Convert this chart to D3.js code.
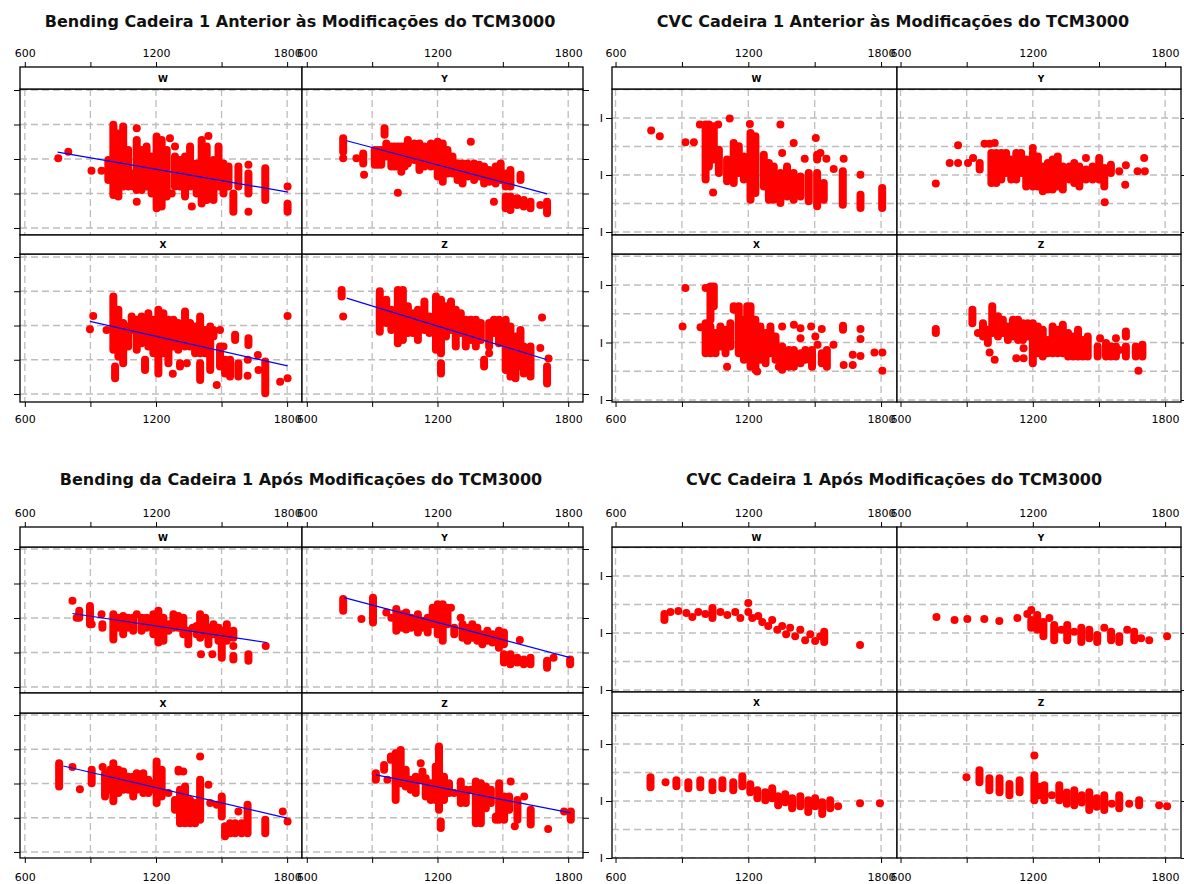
<!DOCTYPE html>
<html><head><meta charset="utf-8">
<script src="https://cdn.jsdelivr.net/npm/d3@7"></script>
<style>
body{margin:0;background:#fff}
svg{display:block}
.title{font-family:"DejaVu Sans",sans-serif;font-weight:bold;font-size:16px;fill:#111}
.axis text{font-family:"DejaVu Sans",sans-serif;font-size:11px;fill:#000}
.strip{font-family:"DejaVu Sans",sans-serif;font-weight:bold;font-size:9px;fill:#000}
</style>
</head><body><svg id="c" width="1184" height="884"></svg>
<script>
// ---------- text / ticks ----------
const titles = [
  "Bending Cadeira 1 Anterior às Modificações do TCM3000",
  "CVC Cadeira 1 Anterior às Modificações do TCM3000",
  "Bending da Cadeira 1 Após Modificações do TCM3000",
  "CVC Cadeira 1 Após Modificações do TCM3000"
];
const panelNames = ["W", "Y", "X", "Z"];
const xTicks = [600, 900, 1200, 1500, 1800];
const xTickLabels = ["600", "", "1200", "", "1800"];
const bendGridY = [0, 1, 2, 3, 4];
const cvcGridY = [0, 1, 2, 3, 4, 5];
const cvcTickY = [0, 2, 4];

// ---------- data: [x, y] single point, [x, yLow, yHigh] stacked column of points ----------
// Bending anterior
const bendAntW = [[753,2.02],[799,2.21],[905,1.66],[951,1.66],[982,1.39,1.97],[1005,0.96,2.99],[1028,0.91,2.74],[1050,1.2,2.94],[1073,1.2,2.26],[1096,1.2,1.58],[1112,2.89],[1112,1.1,2.55],[1112,0.76],[1134,1.1,2.26],[1157,1.2,2.36],[1180,1.0,2.07],[1203,0.57,2.65],[1226,0.62,2.55],[1249,0.91,2.26],[1264,2.6],[1272,1.0],[1287,2.36],[1287,1.2,2.07],[1310,1.2,1.97],[1333,0.91,2.07],[1356,1.2,2.36],[1364,0.62],[1386,1.0,1.87],[1409,0.71,2.55],[1432,0.81,2.36],[1440,2.67],[1463,0.81,1.97],[1486,1.2,2.36],[1509,1.0,1.87],[1532,1.2,1.78],[1554,0.47,1.0],[1577,1.2,1.78],[1623,1.83],[1623,1.0,1.58],[1623,0.47],[1700,0.81,1.73],[1802,1.2],[1802,0.47,0.7]];
const bendAntY = [[767,2.21,2.6],[767,2.02],[828,2.02],[859,1.87,2.16],[863,1.54],[912,1.83,2.26],[927,1.83,2.26],[942,1.83,2.26],[957,2.7,2.89],[965,2.07,2.45],[988,1.78,2.36],[1003,1.78,2.36],[1018,1.78,2.36],[1034,1.63],[1034,1.78,2.36],[1049,1.78,2.36],[1018,1.02],[1064,1.87,2.55],[1094,1.97,2.45],[1117,1.68,2.45],[1140,1.78,2.36],[1170,1.78,2.45],[1201,1.49,2.5],[1224,1.34,2.45],[1246,1.58,2.26],[1269,1.58,2.07],[1292,1.39,1.87],[1315,1.29,1.87],[1338,1.49,1.87],[1353,2.5],[1368,1.39,1.87],[1391,1.49,1.83],[1414,1.29,1.78],[1437,1.34,1.68],[1459,0.76],[1467,1.29,1.78],[1490,1.39,1.87],[1513,0.57,0.91],[1513,1.2,1.58],[1535,1.2,1.68],[1535,0.52,0.91],[1566,0.67,0.86],[1581,1.39,1.54],[1596,0.62,0.81],[1627,0.57,0.76],[1672,0.67],[1703,0.43,0.76]];
const bendAntX = [[898,1.89],[913,2.28],[974,1.87],[1005,2.26,2.85],[1005,1.29,2.17],[1013,0.46,0.8],[1028,1.09,2.46],[1050,0.9,2.07],[1073,1.39,1.97],[1089,1.87,2.26],[1112,1.29,2.17],[1134,1.48,2.26],[1150,0.7,1.0],[1165,1.39,2.36],[1188,1.19,2.17],[1211,0.6,2.46],[1234,1.19,2.36],[1257,0.9,2.17],[1277,0.59],[1280,1.39,2.17],[1302,1.29,2.07],[1310,0.8,0.9],[1333,1.39,2.41],[1341,0.9],[1356,1.39,2.07],[1379,1.19,1.97],[1402,1.19,2.26],[1402,0.41,0.9],[1425,1.19,1.87],[1448,0.7,1.97],[1463,1.68,1.87],[1478,0.26],[1493,1.87],[1493,0.8,1.39],[1509,1.39],[1516,0.6,1.0],[1539,0.51,1.0],[1562,1.58,1.73],[1577,0.51,0.9],[1623,1.43,1.63],[1620,1.0],[1619,0.53],[1666,1.14],[1669,0.7],[1700,0.02,0.95],[1768,0.36],[1802,2.28],[1802,0.46]];
const bendAntZ = [[760,2.85,3.04],[767,2.26],[935,1.82,3.0],[965,2.07,2.75],[988,1.87,2.46],[1018,1.48,3.04],[1041,1.58,3.04],[1064,1.78,2.56],[1087,1.78,2.36],[1110,1.58,2.46],[1140,1.87,2.7],[1163,1.78,2.26],[1193,1.29,2.85],[1216,1.19,2.75],[1216,0.6,0.9],[1239,1.68,2.56],[1262,1.87,2.7],[1284,1.39,2.46],[1307,1.78,2.36],[1330,1.39,2.17],[1353,1.58,2.17],[1376,1.39,2.17],[1399,1.58,2.07],[1414,0.8,1.0],[1437,1.39,2.07],[1437,1.19],[1459,1.78,2.17],[1482,1.48,2.17],[1513,0.7,2.17],[1535,0.51,1.97],[1558,0.46,1.68],[1581,0.8,1.87],[1596,0.6,1.39],[1627,0.51,1.39],[1672,1.34],[1680,2.23],[1710,1.04],[1703,0.31,0.8]];
const bendAntTrend = [[[750,2.2],[1805,1.04]], [[783,2.53],[1703,0.99]], [[898,2.12],[1802,0.82]], [[783,2.8],[1703,1.0]]];

// CVC anterior
const cvcAntW = [[761,3.56],[800,3.36],[916,3.15],[954,3.15],[981,3.77],[1007,1.84,3.77],[1022,2.3,3.77],[1041,1.39],[1044,2.54,3.71],[1064,3.77],[1067,2.07,2.89],[1104,1.78,2.54],[1116,3.98],[1134,1.72,3.12],[1157,2.07,3.01],[1180,1.84,2.65],[1207,3.79],[1210,1.13,3.47],[1232,1.37,3.36],[1270,1.6,2.71],[1293,1.13,2.42],[1315,1.13,2.3],[1345,3.77],[1353,2.77],[1345,1.02,2.07],[1375,1.25,2.3],[1405,3.12],[1405,1.13,2.07],[1436,1.25,1.95],[1455,2.57],[1473,1.08,2.07],[1505,3.3],[1511,2.54,2.71],[1526,2.77],[1511,0.9,2.07],[1541,1.13,1.72],[1553,2.57],[1586,2.21],[1631,2.57],[1627,0.96,2.13],[1707,2.01],[1707,0.84,1.31],[1805,0.84,1.54]];
const cvcAntY = [[760,1.7],[823,2.42],[861,3.04],[861,2.42],[906,2.42],[929,2.6],[959,2.19,2.42],[981,3.1],[1004,3.1],[1027,3.12],[1012,1.72,2.77],[1034,1.72,2.77],[1057,1.84,2.77],[1079,2.07,2.77],[1102,1.84,2.54],[1125,1.84,2.77],[1147,2.07,2.77],[1170,1.6,2.54],[1200,2.95],[1200,1.6,2.77],[1223,1.6,2.65],[1245,1.43,2.3],[1268,1.49,2.42],[1290,1.49,2.54],[1313,1.6,2.65],[1336,1.49,2.3],[1366,1.84,2.3],[1388,1.72,2.42],[1411,1.6,2.3],[1441,2.6],[1441,1.84,2.19],[1471,1.84,2.3],[1501,1.84,2.6],[1524,1.6,2.25],[1526,1.04],[1554,2.07,2.36],[1592,2.13],[1622,2.34],[1619,1.66],[1675,2.13],[1705,2.6],[1708,2.13]];
const cvcAntX = [[903,2.56],[916,3.9],[984,2.53],[1007,3.9],[1029,2.79,3.95],[1044,3.26,3.95],[1007,1.63,2.67],[1029,1.63,2.56],[1052,1.63,2.33],[1074,1.86,2.56],[1097,1.63,2.44],[1104,1.16],[1119,1.86,2.67],[1134,3.14,3.26],[1157,1.63,3.26],[1180,1.4,2.79],[1195,2.09,3.26],[1210,1.16,3.26],[1232,1.05,2.79],[1240,0.99],[1255,1.4,2.56],[1278,1.28,2.33],[1300,1.63,2.56],[1323,1.4,2.21],[1338,1.16],[1353,2.56],[1353,1.05,1.86],[1383,1.16,1.74],[1406,2.62],[1406,1.16,1.74],[1436,2.5],[1436,2.15],[1436,1.28,1.63],[1458,1.4,1.74],[1484,2.56],[1488,1.16,1.74],[1503,2.21],[1513,1.92],[1532,2.47],[1532,1.28,1.63],[1555,1.16,1.74],[1585,1.92],[1628,2.44,2.58],[1631,1.22],[1672,1.22],[1672,1.57],[1707,2.47],[1707,2.12],[1707,1.53],[1770,1.65],[1806,1.65],[1806,1.02]];
const cvcAntZ = [[760,2.33,2.47],[926,2.67,3.14],[951,2.33],[974,2.21,2.67],[996,1.98,2.44],[1004,1.65],[1016,2.33,3.26],[1027,1.4],[1042,2.21,2.91],[1064,2.33,2.79],[1087,2.09,2.56],[1110,2.21,2.79],[1125,1.45],[1133,2.09,2.79],[1155,2.09,2.67],[1158,1.8],[1158,1.45],[1177,2.21,2.67],[1200,1.28,2.67],[1223,1.63,2.56],[1245,1.51,2.44],[1268,1.63,2.09],[1290,1.63,2.56],[1313,1.63,2.44],[1336,1.63,2.62],[1360,1.51,2.33],[1383,1.51,2.21],[1405,1.51,2.44],[1426,1.51,2.09],[1449,1.51,2.21],[1494,1.51,1.86],[1505,2.15],[1532,1.51,1.98],[1554,1.51,1.86],[1577,2.15],[1577,1.51,1.86],[1592,1.74],[1622,2.21,2.38],[1622,1.51,1.86],[1667,1.51,1.86],[1679,1.02],[1697,1.51,1.92]];

// Bending após
const bendPosW = [[818,2.5],[849,2.01,2.21],[837,2.01],[898,1.82,2.35],[906,1.82],[951,2.11],[955,1.72,1.82],[1005,1.38,2.11],[1028,1.72,2.01],[1050,1.53,2.06],[1073,1.72,2.01],[1096,1.63,2.01],[1112,2.11],[1134,1.63,2.01],[1157,1.72,2.01],[1188,1.53,2.11],[1211,1.29,2.21],[1234,1.34,2.01],[1257,1.63,1.82],[1280,1.72,2.11],[1302,1.72,2.06],[1325,1.53,2.01],[1348,1.24,1.63],[1368,1.72],[1386,1.53,1.77],[1402,1.43,2.11],[1406,0.95],[1425,1.53,2.01],[1440,1.24,1.72],[1458,0.95],[1463,1.53,1.82],[1486,1.34,1.72],[1501,0.85,1.63],[1524,1.34,1.82],[1554,1.43,1.63],[1554,1.19],[1554,0.8,0.9],[1623,0.76,0.95],[1702,1.19]];
const bendPosY = [[767,2.21,2.55],[851,1.97],[904,1.87,2.59],[965,2.16],[988,2.01],[1011,1.63,2.26],[1034,1.72,2.11],[1056,1.67,2.16],[1079,1.72,2.01],[1110,1.58,2.11],[1132,1.72,1.92],[1155,1.58,2.01],[1178,1.82,2.3],[1201,1.53,2.4],[1224,1.34,2.4],[1246,1.82,2.3],[1262,2.3],[1277,1.53,1.72],[1307,2.01],[1315,1.43,1.82],[1338,1.34,1.72],[1360,1.43,1.82],[1383,1.34,1.72],[1406,1.24,1.53],[1429,1.34,1.63],[1452,1.29,1.53],[1482,1.14,1.63],[1505,1.24,1.58],[1505,0.71,0.95],[1535,0.66,0.95],[1566,0.71,0.85],[1578,1.36],[1596,0.66,0.8],[1627,0.66,0.85],[1703,0.56,0.76],[1733,0.85],[1809,0.66,0.8]];
const bendPosX = [[757,1.91,2.59],[818,2.48],[852,1.83],[906,2.01,2.4],[956,2.48],[967,1.62,2.3],[990,1.82,2.4],[1005,1.48,2.59],[1028,1.72,2.4],[1050,1.82,2.35],[1073,1.82,2.2],[1096,1.62,2.2],[1112,1.82,2.3],[1142,1.72,2.3],[1165,1.72,2.11],[1188,1.82,2.01],[1203,1.43,2.64],[1226,1.62,2.4],[1257,1.72],[1303,2.35,2.4],[1325,2.35],[1287,1.23,1.52],[1310,0.84,1.82],[1333,0.84,1.91],[1356,0.84,1.52],[1379,0.84,1.43],[1402,2.79],[1402,0.94,2.11],[1440,1.96],[1448,1.43],[1478,1.38],[1501,1.04,1.62],[1516,0.46,0.75],[1539,0.55,0.84],[1562,0.55,0.84],[1577,1.18],[1592,0.55,0.84],[1619,0.55,1.38],[1700,0.55,0.94],[1780,1.18],[1802,0.89]];
const bendPosZ = [[917,2.11,2.3],[955,2.4,2.54],[970,2.11],[986,2.69,2.79],[1008,1.52,2.88],[1031,2.01,2.98],[1054,1.91,2.4],[1077,1.82,2.11],[1100,1.72,2.2],[1123,2.59],[1131,2.11,2.35],[1146,1.62,2.15],[1169,1.52,2.01],[1192,1.52,2.5],[1207,1.23,3.08],[1215,0.7,0.89],[1230,1.52,2.2],[1253,1.72,2.01],[1276,1.72],[1307,1.43,2.06],[1330,1.43,1.82],[1353,1.82],[1376,0.84,2.06],[1399,0.84,2.01],[1422,1.28,1.91],[1445,1.43,1.82],[1468,0.94,1.04],[1483,0.94,2.01],[1506,0.94,1.62],[1529,1.23,1.62],[1536,2.06],[1555,0.75],[1567,0.94,1.52],[1598,1.62],[1628,0.8,1.23],[1708,0.67],[1781,1.18],[1812,0.94,1.18]];
const bendPosTrend = [[[818,2.13],[1707,1.29]], [[772,2.59],[1809,0.85]], [[776,2.51],[1799,0.99]], [[917,2.25],[1812,1.14]]];

// CVC após
const cvcPosW = [[821,2.46,2.67],[848,2.74],[884,2.77],[920,2.7],[947,2.56],[974,2.74],[1006,2.67],[1038,2.53,2.88],[1074,2.74],[1105,2.63],[1141,2.74],[1164,2.53],[1200,3.05],[1200,2.74],[1218,2.53],[1245,2.6],[1263,2.39],[1290,2.25],[1308,2.46],[1331,2.11],[1353,2.25],[1371,1.96],[1389,2.18],[1412,1.89],[1435,2.11],[1457,1.75],[1480,1.96],[1502,1.72],[1525,1.89],[1543,1.68,2.04],[1705,1.58]];
const cvcPosY = [[763,2.56],[845,2.46],[903,2.49],[980,2.49],[1048,2.42],[1130,2.53],[1175,2.67],[1193,2.81],[1193,2.18,2.46],[1220,2.11,2.63],[1248,1.89,2.39],[1275,2.53],[1297,1.75,2.28],[1329,2.11],[1356,1.75,2.28],[1388,2.04],[1420,1.68,2.18],[1456,1.82,2.11],[1492,1.68,1.93],[1524,2.18],[1555,1.75,2.04],[1592,1.68,1.89],[1628,2.11],[1660,1.75,2.04],[1691,1.82],[1728,1.75],[1809,1.89]];
const cvcPosX = [[758,2.48,2.83],[826,2.66],[875,2.52,2.73],[929,2.45,2.66],[983,2.48,2.73],[1038,2.38,2.66],[1083,2.45,2.73],[1132,2.38,2.66],[1173,2.52,2.87],[1209,2.31,2.59],[1241,2.1,2.38],[1277,2.03,2.31],[1308,2.1,2.45],[1335,1.85,2.17],[1367,1.96,2.24],[1398,1.75,2.1],[1435,1.82,2.17],[1471,1.61,2.03],[1502,1.82,2.1],[1534,1.54,1.96],[1570,1.75,2.03],[1606,1.82],[1705,1.92],[1795,1.92]];
const cvcPosZ = [[899,2.83],[958,2.66,3.08],[1003,2.38,2.8],[1049,2.31,2.8],[1094,2.2,2.6],[1140,2.31,2.73],[1207,3.6],[1207,2.03,2.9],[1230,2.2,2.5],[1252,2.03,2.55],[1286,2.2],[1320,2.03,2.55],[1354,1.9,2.3],[1388,1.85,2.38],[1422,1.95,2.2],[1456,1.68,2.31],[1490,1.8,2.1],[1524,1.68,2.2],[1558,1.9],[1592,1.75,2.2],[1637,1.9],[1682,1.85,2.03],[1773,1.85],[1809,1.82]];

// ---------- layout ----------
const bendCols = [[20, 302], [302, 583]];
const cvcCols = [[612, 897], [897, 1181]];
const charts = [
  {title: titles[0], tx: 300, ty: 27, cols: bendCols, xDom: [578, 1868], topLabelY: 57, bottomLabelY: 423,
   rows: [{stripTop: 67, top: 89, bottom: 235, y0: 228, y4: 90}, {stripTop: 235, top: 254, bottom: 402, y0: 394, y4: 257}],
   grid: bendGridY, tickY: bendGridY, data: [bendAntW, bendAntY, bendAntX, bendAntZ], trends: bendAntTrend},
  {title: titles[1], tx: 893, ty: 27, cols: cvcCols, xDom: [584, 1872], topLabelY: 57, bottomLabelY: 423,
   rows: [{stripTop: 67, top: 89, bottom: 235, y0: 232, y4: 118}, {stripTop: 235, top: 254, bottom: 402, y0: 400, y4: 285}],
   grid: cvcGridY, tickY: cvcTickY, cvc: true, data: [cvcAntW, cvcAntY, cvcAntX, cvcAntZ]},
  {title: titles[2], tx: 301, ty: 485, cols: bendCols, xDom: [578, 1868], topLabelY: 517, bottomLabelY: 881,
   rows: [{stripTop: 527, top: 547, bottom: 693, y0: 687, y4: 549}, {stripTop: 693, top: 713, bottom: 858, y0: 852, y4: 715}],
   grid: bendGridY, tickY: bendGridY, data: [bendPosW, bendPosY, bendPosX, bendPosZ], trends: bendPosTrend},
  {title: titles[3], tx: 894, ty: 485, cols: cvcCols, xDom: [584, 1872], topLabelY: 517, bottomLabelY: 881,
   rows: [{stripTop: 527, top: 547, bottom: 692, y0: 690, y4: 576}, {stripTop: 692, top: 713, bottom: 858, y0: 858, y4: 744}],
   grid: cvcGridY, tickY: cvcTickY, cvc: true, data: [cvcPosW, cvcPosY, cvcPosX, cvcPosZ]}
];

const svg = d3.select("#c");
const defs = svg.append("defs");
let clipN = 0;

charts.forEach(ch => {
  svg.append("text").attr("class", "title").attr("x", ch.tx).attr("y", ch.ty)
     .attr("text-anchor", "middle").text(ch.title);

  ch.rows.forEach((row, ri) => {
    const y = d3.scaleLinear().domain([0, 4]).range([row.y0, row.y4]);
    ch.cols.forEach((col, ci) => {
      const idx = ri * 2 + ci;
      const x = d3.scaleLinear().domain(ch.xDom).range(col);
      const g = svg.append("g");
      const cid = "clip" + (clipN++);
      defs.append("clipPath").attr("id", cid).append("rect")
          .attr("x", col[0]).attr("y", row.top).attr("width", col[1] - col[0]).attr("height", row.bottom - row.top);
      g.append("rect").attr("x", col[0]).attr("y", row.top).attr("width", col[1] - col[0])
       .attr("height", row.bottom - row.top).attr("fill", "#fff");
      const pg = g.append("g").attr("clip-path", `url(#${cid})`);
      pg.selectAll("line.vg").data(xTicks).join("line").attr("class", "vg")
        .attr("x1", d => x(d)).attr("x2", d => x(d)).attr("y1", row.top).attr("y2", row.bottom)
        .attr("stroke", "#bdbdbd").attr("stroke-width", 1.3).attr("stroke-dasharray", "7,4");
      pg.selectAll("line.hg").data(ch.grid).join("line").attr("class", "hg")
        .attr("x1", col[0]).attr("x2", col[1]).attr("y1", d => y(d)).attr("y2", d => y(d))
        .attr("stroke", "#bdbdbd").attr("stroke-width", 1.3).attr("stroke-dasharray", "7,4");

      const pts = ch.data[idx];
      pg.selectAll("line.pc").data(pts.filter(p => p.length === 3)).join("line").attr("class", "pc")
        .attr("x1", d => x(d[0])).attr("x2", d => x(d[0])).attr("y1", d => y(d[1])).attr("y2", d => y(d[2]))
        .attr("stroke", "#ff0000").attr("stroke-width", 8).attr("stroke-linecap", "round");
      pg.selectAll("circle.pt").data(pts.filter(p => p.length === 2)).join("circle").attr("class", "pt")
        .attr("cx", d => x(d[0])).attr("cy", d => y(d[1])).attr("r", 4).attr("fill", "#ff0000");
      if (ch.trends) {
        pg.append("path").datum(ch.trends[idx])
          .attr("d", d3.line().x(d => x(d[0])).y(d => y(d[1])))
          .attr("fill", "none").attr("stroke", "#0000ff").attr("stroke-width", 1.2);
      }
      g.append("rect").attr("x", col[0]).attr("y", row.top).attr("width", col[1] - col[0])
       .attr("height", row.bottom - row.top).attr("fill", "none").attr("stroke", "#000").attr("stroke-width", 1.3);
      // strip
      g.append("rect").attr("x", col[0]).attr("y", row.stripTop).attr("width", col[1] - col[0])
       .attr("height", row.top - row.stripTop).attr("fill", "#fff").attr("stroke", "#000").attr("stroke-width", 1.3);
      g.append("text").attr("class", "strip").attr("x", (col[0] + col[1]) / 2 + 2)
       .attr("y", (row.stripTop + row.top) / 2 + 3.5).attr("text-anchor", "middle").text(panelNames[idx]);

      // x axes
      if (ri === 0) {
        const ax = g.append("g").attr("class", "axis").attr("transform", `translate(0,${row.stripTop})`)
          .call(d3.axisTop(x).tickValues(xTicks).tickFormat((d, i) => xTickLabels[i]).tickSize(5).tickPadding(2));
        ax.select(".domain").remove();
        ax.selectAll("text").attr("y", ch.topLabelY - row.stripTop).attr("dy", 0);
      } else {
        const ax = g.append("g").attr("class", "axis").attr("transform", `translate(0,${row.bottom})`)
          .call(d3.axisBottom(x).tickValues(xTicks).tickFormat((d, i) => xTickLabels[i]).tickSize(5).tickPadding(2));
        ax.select(".domain").remove();
        ax.selectAll("text").attr("y", ch.bottomLabelY - row.bottom).attr("dy", 0);
      }
      // y ticks
      const yAx = ci === 0
        ? d3.axisLeft(y).tickValues(ch.tickY).tickSize(6)
        : d3.axisRight(y).tickValues(ch.tickY).tickSize(6);
      yAx.tickFormat(() => ch.cvc ? "I" : "").tickPadding(3);
      const yg = g.append("g").attr("class", "axis")
        .attr("transform", `translate(${ci === 0 ? col[0] : col[1]},0)`).call(yAx);
      yg.select(".domain").remove();
      if (ci === 1 && ch.cvc) yg.selectAll("text").remove();
    });
  });
});
</script>
</body></html>
